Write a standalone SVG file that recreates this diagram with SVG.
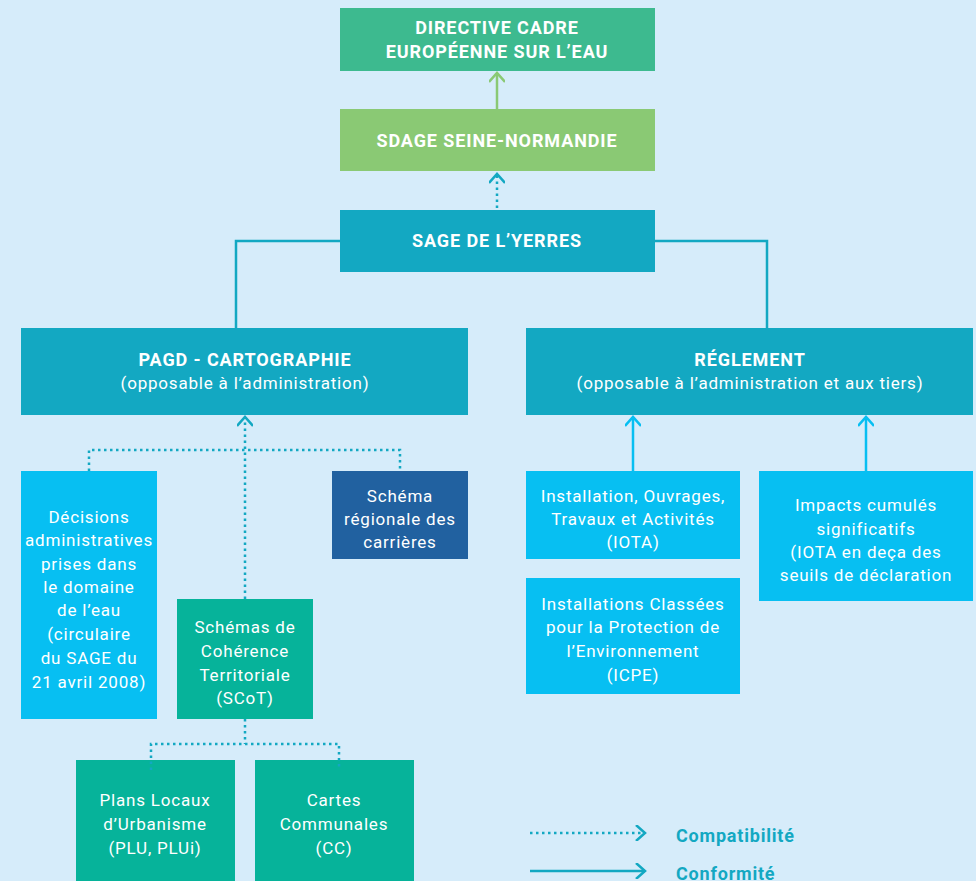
<svg xmlns="http://www.w3.org/2000/svg" width="976" height="881" viewBox="0 0 976 881">
<defs>
<style>
.t{font-family:Roboto,"Liberation Sans",sans-serif;font-size:17px;letter-spacing:0.8px;fill:#fff;text-anchor:middle}
.b{font-weight:bold;font-size:18px;letter-spacing:0.9px}
.lg{font-family:Roboto,"Liberation Sans",sans-serif;font-size:18px;letter-spacing:0.8px;font-weight:bold;fill:#13a8c2}
.c{fill:none;stroke:#13a8c2;stroke-width:2.5}
.d{fill:none;stroke:#13a8c2;stroke-width:2.5;stroke-dasharray:2.5 3.5}
.s{fill:none;stroke:#07bff2;stroke-width:2.5}
.g{fill:none;stroke:#8ac974;stroke-width:2.5}
</style>
<marker id="ah" viewBox="-12 -8 14 16" markerWidth="14" markerHeight="16" refX="0" refY="0" orient="auto" markerUnits="userSpaceOnUse"><path d="M-9,-8 L0,0 L-9,8" fill="none" stroke="#13a8c2" stroke-width="2.5"/></marker>
<marker id="ahs" viewBox="-12 -8 14 16" markerWidth="14" markerHeight="16" refX="0" refY="0" orient="auto" markerUnits="userSpaceOnUse"><path d="M-9,-8 L0,0 L-9,8" fill="none" stroke="#07bff2" stroke-width="2.5"/></marker>
<marker id="ahg" viewBox="-12 -8 14 16" markerWidth="14" markerHeight="16" refX="0" refY="0" orient="auto" markerUnits="userSpaceOnUse"><path d="M-9,-8 L0,0 L-9,8" fill="none" stroke="#8ac974" stroke-width="2.5"/></marker>
</defs>
<rect width="976" height="881" fill="#d6ecfa"/>

<g id="connectors">
<line class="g" x1="497" y1="109" x2="497" y2="73" marker-end="url(#ahg)"/>
<line class="d" x1="497" y1="208" x2="497" y2="174" marker-end="url(#ah)"/>
<polyline class="c" points="340,241 236,241 236,328"/>
<polyline class="c" points="655,241 767,241 767,328"/>
<line class="d" x1="245" y1="599" x2="245" y2="417" marker-end="url(#ah)"/>
<polyline class="d" points="89,471 89,450 400,450 400,471"/>
<line class="d" x1="245" y1="719" x2="245" y2="744"/>
<line class="s" x1="633" y1="471" x2="633" y2="417" marker-end="url(#ahs)"/>
<line class="s" x1="866" y1="471" x2="866" y2="417" marker-end="url(#ahs)"/>
</g>

<g id="dce"><rect x="340" y="8" width="315" height="63" fill="#3dba8f"/><text class="t b"><tspan x="497" y="34">DIRECTIVE CADRE</tspan><tspan x="497" y="58">EUROPÉENNE SUR L’EAU</tspan></text></g>
<g id="sdage"><rect x="340" y="109" width="315" height="62" fill="#8ac974"/><text class="t b" x="497" y="147">SDAGE SEINE-NORMANDIE</text></g>
<g id="sage"><rect x="340" y="210" width="315" height="62" fill="#13a8c2"/><text class="t b" x="497" y="247">SAGE DE L’YERRES</text></g>
<g id="pagd"><rect x="21" y="328" width="447" height="87" fill="#13a8c2"/><text class="t"><tspan class="b" x="245" y="366">PAGD - CARTOGRAPHIE</tspan><tspan x="245" y="389">(opposable à l’administration)</tspan></text></g>
<g id="reglement"><rect x="526" y="328" width="447" height="87" fill="#13a8c2"/><text class="t"><tspan class="b" x="750" y="366">RÉGLEMENT</tspan><tspan x="750" y="389">(opposable à l’administration et aux tiers)</tspan></text></g>
<g id="decisions"><rect x="21" y="471" width="136" height="248" fill="#07bff2"/><text class="t"><tspan x="89" y="523">Décisions</tspan><tspan x="89" y="546">administratives</tspan><tspan x="89" y="570">prises dans</tspan><tspan x="89" y="593">le domaine</tspan><tspan x="89" y="616">de l’eau</tspan><tspan x="89" y="640">(circulaire</tspan><tspan x="89" y="664">du SAGE du</tspan><tspan x="89" y="688">21 avril 2008)</tspan></text></g>
<g id="schema"><rect x="332" y="471" width="136" height="88" fill="#2161a0"/><text class="t"><tspan x="400" y="502">Schéma</tspan><tspan x="400" y="525">régionale des</tspan><tspan x="400" y="548">carrières</tspan></text></g>
<g id="scot"><rect x="177" y="599" width="136" height="120" fill="#06b39a"/><text class="t"><tspan x="245" y="633">Schémas de</tspan><tspan x="245" y="657">Cohérence</tspan><tspan x="245" y="681">Territoriale</tspan><tspan x="245" y="704">(SCoT)</tspan></text></g>
<g id="plu"><rect x="76" y="760" width="159" height="121" fill="#06b39a"/><text class="t"><tspan x="155" y="806">Plans Locaux</tspan><tspan x="155" y="830">d’Urbanisme</tspan><tspan x="155" y="854">(PLU, PLUi)</tspan></text></g>
<g id="cc"><rect x="255" y="760" width="159" height="121" fill="#06b39a"/><text class="t"><tspan x="334" y="806">Cartes</tspan><tspan x="334" y="830">Communales</tspan><tspan x="334" y="854">(CC)</tspan></text></g>
<g id="iota"><rect x="526" y="471" width="214" height="88" fill="#07bff2"/><text class="t"><tspan x="633" y="502">Installation, Ouvrages,</tspan><tspan x="633" y="525">Travaux et Activités</tspan><tspan x="633" y="548">(IOTA)</tspan></text></g>
<g id="icpe"><rect x="526" y="578" width="214" height="116" fill="#07bff2"/><text class="t"><tspan x="633" y="610">Installations Classées</tspan><tspan x="633" y="633">pour la Protection de</tspan><tspan x="633" y="657">l’Environnement</tspan><tspan x="633" y="681">(ICPE)</tspan></text></g>
<g id="impacts"><rect x="759" y="471" width="214" height="130" fill="#07bff2"/><text class="t"><tspan x="866" y="511">Impacts cumulés</tspan><tspan x="866" y="535">significatifs</tspan><tspan x="866" y="558">(IOTA en deça des</tspan><tspan x="866" y="581">seuils de déclaration</tspan></text></g>

<g id="dotted-overlay"><polyline class="d" points="151,770 151,744 339,744 339,770"/></g>

<g id="legend">
<line class="d" x1="530" y1="833" x2="645" y2="833" marker-end="url(#ah)"/>
<text class="lg" x="676" y="842">Compatibilité</text>
<line class="c" x1="530" y1="871" x2="645" y2="871" marker-end="url(#ah)"/>
<text class="lg" x="676" y="880">Conformité</text>
</g>
</svg>
